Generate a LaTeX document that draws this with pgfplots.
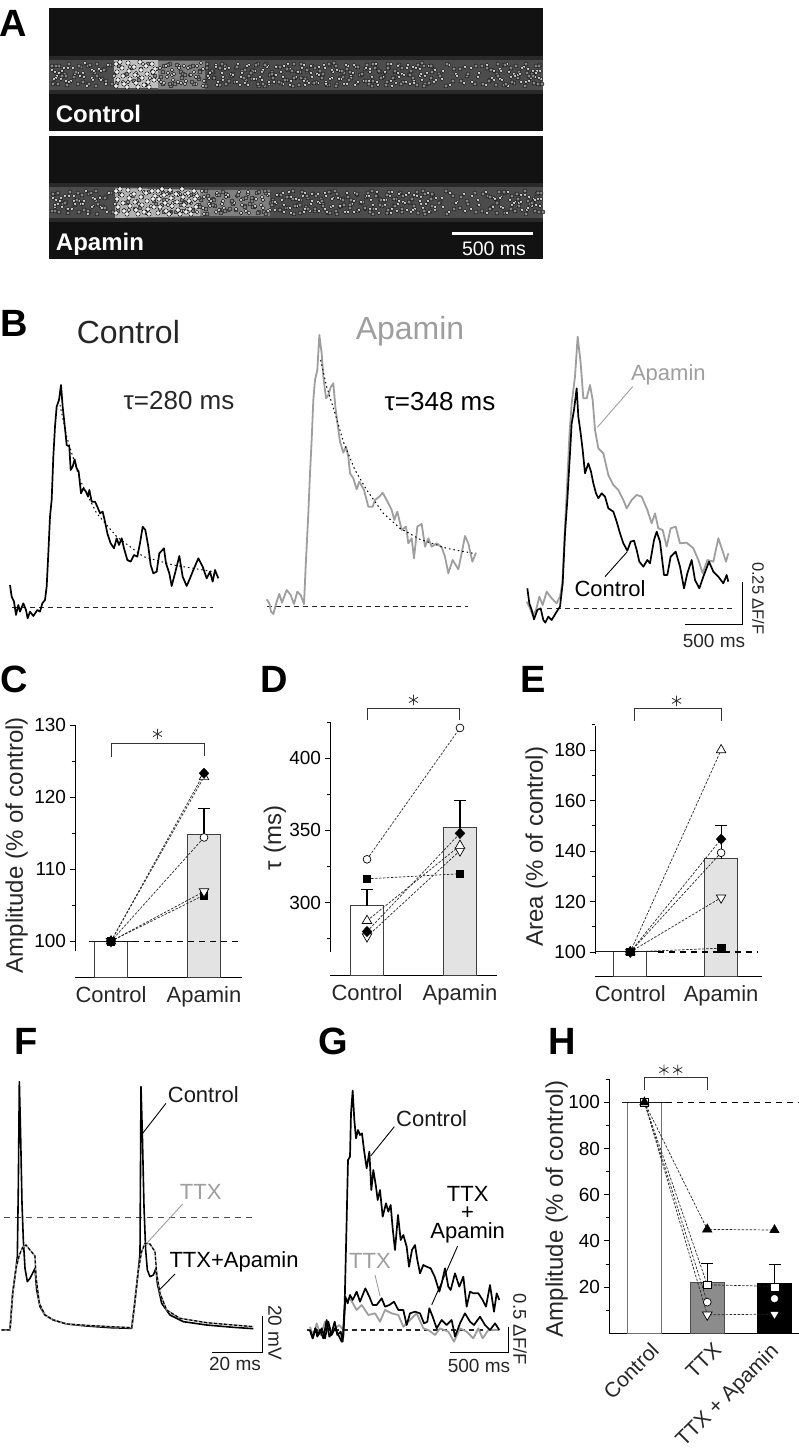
\documentclass[border=0pt]{standalone}
\usepackage{fontspec}
\setmainfont{Liberation Sans}
\usepackage{pgfplots}
\usepackage{pgfplotstable}
\pgfplotsset{compat=1.18}
\newcommand\fs[1]{\fontsize{#1}{#1}\selectfont}
\definecolor{apagray}{gray}{0.62}
\definecolor{bargray}{gray}{0.89}

% crop = {left}{top}{width}{height}{zoom}: hidden axis with the reference's pixels as units
\pgfplotsset{
  crop/.style n args={5}{
    at={({#1pt},{1455pt-(#2pt)-#4pt})}, anchor=south west, scale only axis,
    width=#3pt, height=#4pt, hide axis, clip=false, y dir=reverse,
    xmin=0, xmax={#3*#5}, ymin=0, ymax={#4*#5}},
  trace/.style={line width=1.7pt, black, line join=round},
  gtrace/.style={line width=1.8pt, apagray, line join=round},
  base/.style={black!85, line width=1.1pt, dash pattern=on 5pt off 4pt},
  fit/.style={black, line width=1pt, dash pattern=on 1.5pt off 3pt},
  leader/.style={line width=.9pt},
  sbar/.style={black, line width=1pt},
  panel/.style={
    scale only axis, axis lines=left, clip mode=individual,
    x axis line style={-, line width=1pt}, y axis line style={-, draw=none},
    xtick style={draw=none}, ytick style={black, line width=.9pt},
    tick align=outside, major tick length=5.5pt, minor tick length=3.5pt,
    tick label style={font=\fs{19}}, x tick label style={font=\fs{22}, text=black!85},
    /pgf/number format/assume math mode=true, /pgf/number format/1000 sep={},
    ylabel style={font=\fs{24}, anchor=center, text=black!85}},
  vbar/.style={ybar, bar shift=0pt, draw=black!75, line width=1pt,
    error bars/y dir=plus, error bars/y explicit,
    error bars/error bar style={black, line width=1.1pt},
    error bars/error mark options={black, rotate=90, mark size=6pt, line width=1.1pt}},
  hline/.style={black!90, line width=1pt},
  dline/.style={black, line width=1.1pt, dash pattern=on 6pt off 5pt},
  link/.style={black!85, line width=.7pt, dash pattern=on 2.5pt off 1.5pt},
  brk/.style={black!80, line width=1pt},
  star/.style={only marks, mark=asterisk, mark size=5.2pt, black!80, mark options={line width=.8pt}},
  mSq/.style={only marks, mark=square*, mark size=3.6pt, black},
  mCi/.style={only marks, mark=*, mark size=3.9pt, mark options={fill=white, draw=black, line width=.7pt}},
  mUp/.style={only marks, mark=triangle*, mark size=5.5pt, mark options={fill=white, draw=black, line width=.7pt}},
  mDn/.style={only marks, mark=triangle*, mark size=5.5pt, mark options={rotate=180, fill=white, draw=black, line width=.7pt}},
  mDi/.style={only marks, mark=diamond*, mark size=5.2pt, black, mark options={xscale=1.25}},
}

% one dashed link and one marker per cell
\newcommand\pairs[1]{
  \addplot[link] table[x=cond,y=sq]{#1};
  \addplot[link] table[x=cond,y=dn]{#1};
  \addplot[link] table[x=cond,y=up]{#1};
  \addplot[link] table[x=cond,y=ci]{#1};
  \addplot[link] table[x=cond,y=di]{#1};
  \addplot[mSq] table[x=cond,y=sq]{#1};
  \addplot[mDn] table[x=cond,y=dn]{#1};
  \addplot[mUp] table[x=cond,y=up]{#1};
  \addplot[mCi] table[x=cond,y=ci]{#1};
  \addplot[mDi] table[x=cond,y=di]{#1};
}

\pgfplotstableread{
cond sq dn up ci di
1 100 100 100 100 100
2 106.4 106.9 122.8 114.4 123.3
}\tableC
\pgfplotstableread{
cond sq dn up ci di
1 316.5 276.5 287.5 330 280
2 320 336 339.5 421 348
}\tableD
\pgfplotstableread{
cond sq dn up ci di
1 100 100 100 100 100
2 101.5 121.5 180 139.3 144.7
}\tableE

% line-scan texture of panel A
\newcommand\speckles{
  \addplot[only marks, mark=*, mark size=2pt, mark options={draw=none, fill=black!48}] coordinates {
    (52,72)(58,90)(65,80)(78,90)(88,72)(96,92)(105,75)(163,90)(170,70)(181,78)(193,72)(199,85)(206,92)(213,78)(219,88)(225,72)
    (232,82)(245,76)(252,85)(258,70)(265,92)(272,78)(280,73)(287,86)(293,92)(300,78)(307,87)(315,74)(322,82)(329,91)(336,72)(343,83)
    (350,78)(357,89)(365,75)(372,92)(380,78)(387,88)(394,84)(402,74)(409,81)(417,91)(424,72)(431,84)(439,80)(446,92)(453,87)(460,75)
    (467,82)(475,90)(482,72)(490,86)(497,80)(504,91)(511,74)(518,84)(525,92)(532,80)(538,90)};
  \addplot[only marks, mark=*, mark size=1.8pt, mark options={draw=none, fill=black!12}] coordinates {
    (55,78)(61,85)(68,74)(74,82)(83,79)(92,76)(100,85)(160,74)(167,83)(172,76)(178,88)(184,72)(190,81)(196,90)(203,75)(209,84)
    (216,71)(222,79)(228,88)(236,74)(241,83)(248,91)(255,77)(262,86)(268,72)(275,81)(283,90)(290,75)(296,84)(304,71)(311,79)(318,89)
    (325,74)(332,84)(340,77)(347,90)(354,71)(361,81)(369,87)(376,74)(384,83)(391,70)(398,79)(406,88)(413,73)(420,82)(428,90)(435,76)
    (442,85)(449,71)(456,80)(464,89)(471,74)(478,83)(486,91)(493,76)(500,85)(507,70)(514,80)(521,88)(528,75)(535,83)(540,77)};
}
\newcommand\blockdots{
  \addplot[only marks, mark=*, mark size=2.2pt, mark options={draw=none, fill=black!5}] coordinates {
    (116,64)(122,68)(128,63)(134,67)(140,62)(146,66)(152,64)(155,69)(117,72)(123,76)(129,71)(135,75)(141,70)(147,74)(153,72)
    (118,80)(124,84)(130,79)(136,83)(142,78)(148,82)(154,80)(116,86)(127,87)(138,87)(149,87)(120,62)(144,85)};
}
\newcommand\letter[3]{\node[font=\fs{38}\bfseries, inner sep=0] at (axis cs:#2,#3) {#1};}

\begin{document}
\begin{tikzpicture}
\useasboundingbox (0,0) rectangle (799pt,1455pt);

% panel letters and panel A backgrounds
\begin{axis}[crop={0}{0}{799}{1455}{1}]
  \addplot[fill=black!93, draw=none] coordinates {(49,8)(543,8)(543,131)(49,131)};
  \addplot[fill=black!93, draw=none] coordinates {(49,136)(543,136)(543,259)(49,259)};
  \addplot[fill=black!84, draw=none] coordinates {(49,56)(543,56)(543,94)(49,94)};
  \addplot[fill=black!70, draw=none] coordinates {(49,60)(543,60)(543,90)(49,90)};
  \addplot[fill=black!84, draw=none] coordinates {(49,183)(543,183)(543,222)(49,222)};
  \addplot[fill=black!70, draw=none] coordinates {(49,187)(543,187)(543,218)(49,218)};
  \addplot[fill=black!50, draw=none] coordinates {(158,61)(205,61)(205,89)(158,89)};
  \addplot[fill=black!50, draw=none] coordinates {(200,190)(270,190)(270,216)(200,216)};
  \addplot[fill=black!25, draw=none] coordinates {(114,60)(158,60)(158,88)(114,88)};
  \addplot[fill=black!30, draw=none] coordinates {(115,188)(200,190)(200,216)(115,218)};
  \letter{A}{13}{23} \letter{B}{14}{323} \letter{C}{14}{679} \letter{D}{274}{679}
  \letter{E}{533}{679} \letter{F}{26}{1041} \letter{G}{333}{1041} \letter{H}{562}{1041}
\end{axis}
% the one speckle list, laid down four ways per band so that it does not read as a pattern
\begin{axis}[crop={0}{-6}{799}{1455}{1}] \speckles \end{axis}
\begin{axis}[crop={-207}{-7}{799}{1455}{1}, x dir=reverse] \speckles \end{axis}
\begin{axis}[crop={1}{-1299}{799}{1455}{1}, y dir=normal] \speckles \end{axis}
\begin{axis}[crop={-205}{-1299}{799}{1455}{1}, x dir=reverse, y dir=normal] \speckles \end{axis}
\begin{axis}[crop={-206}{121}{799}{1455}{1}, x dir=reverse] \speckles \end{axis}
\begin{axis}[crop={1}{122}{799}{1455}{1}] \speckles \end{axis}
\begin{axis}[crop={-204}{-1171}{799}{1455}{1}, x dir=reverse, y dir=normal] \speckles \end{axis}
\begin{axis}[crop={0}{-1172}{799}{1455}{1}, y dir=normal] \speckles \end{axis}
\begin{axis}[crop={0}{0}{799}{1455}{1}] \blockdots \end{axis}
\begin{axis}[crop={0}{127}{799}{1455}{1}] \blockdots \end{axis}
\begin{axis}[crop={42}{127}{799}{1455}{1}] \blockdots \end{axis}
\begin{axis}[crop={0}{0}{799}{1455}{1}]
  \addplot[white, line width=3pt] coordinates {(452,234)(533,234)};
  \node[font=\fs{19.5}, white, inner sep=0] at (axis cs:494,249) {500 ms};
  \node[font=\fs{24}\bfseries, white, inner sep=0] at (axis cs:98.5,114) {Control};
  \node[font=\fs{24}\bfseries, white, inner sep=0] at (axis cs:100,244) {Apamin};
\end{axis}

% B, left
\begin{axis}[crop={0}{300}{260}{340}{3}]
  \addplot[base] coordinates {(35,923)(640,923)};
  \addplot[trace] coordinates {(30,855)(35,890)(42,905)(48,945)(55,915)(60,935)(70,910)(78,930)(83,955)(90,935)(100,948)(112,930)(120,935)(127,910)(135,900)(140,860)(145,760)(150,650)(155,600)(160,470)(165,380)(170,320)(177,300)(183,255)(188,320)(195,385)(200,435)(208,440)(212,510)(218,500)(224,478)(230,505)(236,515)(243,580)(250,565)(258,575)(264,590)(268,570)(275,605)(285,605)(292,620)(300,640)(308,635)(315,665)(322,700)(332,730)(342,745)(350,715)(357,735)(365,715)(372,745)(382,780)(392,785)(402,765)(412,770)(420,730)(428,680)(436,690)(445,740)(452,795)(460,820)(470,815)(478,760)(492,745)(498,790)(508,820)(515,858)(525,820)(538,768)(548,830)(560,858)(570,835)(580,810)(595,775)(608,800)(620,835)(630,815)(638,845)(645,810)(655,835)};
  \addplot[fit] coordinates {(180,315)(200,410)(240,540)(290,640)(350,710)(430,770)(520,795)(640,815)};
  \node[font=\fs{32}, black!85, inner sep=0] at (axis cs:385,97) {Control};
  \node[font=\fs{26}, black!85, inner sep=0] at (axis cs:537,302) {τ=280 ms};
\end{axis}
% B, middle
\begin{axis}[crop={260}{300}{260}{340}{3}]
  \addplot[base] coordinates {(20,920)(625,920)};
  \addplot[gtrace] coordinates {(20,898)(28,910)(33,935)(40,942)(50,905)(58,882)(66,908)(80,870)(92,885)(102,912)(112,875)(122,885)(132,912)(137,800)(145,640)(150,520)(155,420)(160,300)(165,240)(172,210)(178,105)(185,160)(190,230)(198,295)(205,285)(212,262)(220,250)(226,320)(235,390)(240,425)(250,458)(258,440)(265,470)(270,520)(280,535)(290,568)(298,545)(312,570)(325,620)(338,620)(345,600)(358,590)(368,578)(380,600)(395,630)(403,660)(412,635)(425,690)(438,680)(445,730)(455,715)(462,775)(472,680)(485,672)(495,740)(505,715)(515,740)(530,730)(545,742)(555,770)(565,820)(578,780)(595,808)(605,760)(615,708)(625,730)(637,785)(648,758)};
  \addplot[fit] coordinates {(182,180)(200,260)(225,340)(250,425)(285,510)(320,570)(370,640)(420,685)(480,718)(560,745)(640,760)};
  \node[font=\fs{32}, apagray, inner sep=0] at (axis cs:450,95) {Apamin};
  \node[font=\fs{26}, black, inner sep=0] at (axis cs:540,305) {τ=348 ms};
\end{axis}
% B, right
\begin{axis}[crop={510}{320}{270}{340}{3}]
  \addplot[base] coordinates {(110,865)(668,865)};
  \addplot[gtrace] coordinates {(50,845)(58,860)(68,885)(78,870)(88,830)(98,855)(110,815)(125,835)(140,850)(150,830)(157,790)(165,620)(172,480)(178,350)(185,250)(195,170)(203,50)(212,130)(220,235)(230,235)(240,195)(248,240)(255,330)(265,385)(280,400)(295,465)(310,495)(325,510)(340,540)(350,565)(365,540)(380,525)(395,530)(412,570)(425,610)(435,580)(445,625)(458,630)(470,680)(482,625)(497,620)(510,670)(530,668)(550,685)(565,720)(578,760)(592,720)(610,725)(625,655)(640,700)(648,725)(655,700)};
  \addplot[trace] coordinates {(52,805)(58,850)(65,870)(72,898)(82,870)(92,865)(100,900)(106,908)(115,890)(125,900)(140,875)(150,860)(158,790)(165,640)(172,540)(180,400)(185,310)(192,270)(200,205)(205,290)(212,340)(218,390)(225,460)(235,430)(243,455)(250,490)(258,520)(265,535)(275,520)(285,530)(295,565)(310,575)(320,605)(330,640)(340,670)(352,692)(362,665)(372,662)(380,690)(388,725)(400,740)(412,720)(420,730)(432,660)(440,635)(450,665)(462,765)(472,765)(482,710)(497,695)(510,740)(522,805)(532,760)(545,720)(555,780)(568,805)(580,770)(597,725)(610,755)(625,770)(640,790)(650,765)(655,785)};
  \addplot[leader, apagray] coordinates {(368,200)(262,322)};
  \addplot[leader, black] coordinates {(352,695)(285,770)};
  \addplot[sbar] coordinates {(525,913)(697,913)(697,785)};
  \node[font=\fs{22}, apagray, inner sep=0] at (axis cs:475,165) {Apamin};
  \node[font=\fs{22}, black, inner sep=0] at (axis cs:300,805) {Control};
  \node[font=\fs{19}, black!85, inner sep=0] at (axis cs:612,962) {500 ms};
  \node[font=\fs{16.5}, black!85, inner sep=0, rotate=-90] at (axis cs:745,835) {0.25 ΔF/F};
\end{axis}

% C
\begin{axis}[panel, at={(75pt,{1455pt-977.3pt})}, anchor=south west, width=166.7pt, height=252.3pt,
    xmin=0.613, xmax=2.405, ymin=95, ymax=130,
    xtick={1,2}, xticklabels={Control,Apamin},
    ytick={100,110,120,130}, minor ytick={105,115,125},
    ylabel={Amplitude (\% of control)}, ylabel style={at={(axis description cs:-0.35,0.524)}}]
  \addplot[vbar, bar width=33.4pt, fill=white] coordinates {(1,100)};
  \addplot[vbar, bar width=33.4pt, fill=bargray] coordinates {(2,114.8) +- (0,3.6)};
  \addplot[hline] coordinates {(0.76,100)(1.24,100)};
  \addplot[dline] coordinates {(1.24,100)(2.36,100)};
  \pairs{\tableC}
  \addplot[only marks, mark=*, mark size=4.4pt, black] coordinates {(1,100)};
  \addplot[brk] coordinates {(1,125.6)(1,127.46)(2,127.46)(2,125.7)};
  \addplot[star] coordinates {(1.5,128.75)};
  \draw[black, line width=1pt] (axis cs:0.613,98.7) -- (axis cs:0.613,130);
\end{axis}

% D
\begin{axis}[panel, at={(330pt,{1455pt-976pt})}, anchor=south west, width=166.7pt, height=282.7pt,
    xmin=0.602, xmax=2.395, ymin=249.2, ymax=445,
    xtick={1,2}, xticklabels={Control,Apamin},
    ytick={300,350,400}, minor ytick={275,325,375,425},
    ylabel={τ (ms)}, ylabel style={at={(axis description cs:-0.33,0.488)}}]
  \addplot[vbar, bar width=33.4pt, fill=white] coordinates {(1,297.8) +- (0,11.2)};
  \addplot[vbar, bar width=33.4pt, fill=bargray] coordinates {(2,352) +- (0,19)};
  \pairs{\tableD}
  \addplot[brk] coordinates {(1,426.6)(1,434.6)(2,434.6)(2,426.6)};
  \addplot[star] coordinates {(1.5,440.4)};
  \draw[black, line width=1pt] (axis cs:0.602,266) -- (axis cs:0.602,425.4);
\end{axis}

% E
\begin{axis}[panel, at={(595pt,{1455pt-976.7pt})}, anchor=south west, width=166.7pt, height=284.7pt,
    xmin=0.612, xmax=2.447, ymin=90.2, ymax=203,
    xtick={1,2}, xticklabels={Control,Apamin},
    ytick={100,120,140,160,180}, minor ytick={110,130,150,170,190},
    ylabel={Area (\% of control)}, ylabel style={at={(axis description cs:-0.35,0.456)}}]
  \addplot[vbar, bar width=33.4pt, fill=white] coordinates {(1,100)};
  \addplot[vbar, bar width=33.4pt, fill=bargray] coordinates {(2,137) +- (0,13.2)};
  \addplot[hline] coordinates {(0.612,100)(1.3,100)};
  \addplot[dline] coordinates {(1.3,100)(2.4,100)};
  \pairs{\tableE}
  \addplot[only marks, mark=*, mark size=4.4pt, black] coordinates {(1,100)};
  \addplot[brk] coordinates {(1.05,191.5)(1.05,196.5)(2,196.5)(2,191.5)};
  \addplot[star] coordinates {(1.51,199.5)};
  \draw[black, line width=1pt] (axis cs:0.612,99) -- (axis cs:0.612,189.6);
\end{axis}

% F
\begin{axis}[crop={0}{1020}{310}{320}{3}]
  \addplot[base, black!70, dash pattern=on 6pt off 5pt] coordinates {(12,593)(768,593)};
  \addplot[line width=1.6pt, black, line join=round] coordinates {(5,930)(30,930)(38,820)(48,745)(52,710)(55,500)(58,185)(62,350)(66,550)(70,660)(75,745)(82,785)(90,775)(100,755)(105,745)(110,810)(120,860)(135,885)(160,900)(200,912)(260,918)(330,923)(395,925)(403,860)(415,750)(420,700)(423,200)(427,340)(432,560)(437,690)(442,750)(450,770)(460,765)(468,745)(472,790)(485,850)(510,885)(550,905)(620,915)(700,922)(760,926)};
  \addplot[line width=1.5pt, apagray, line join=round] coordinates {(5,930)(30,930)(38,820)(48,745)(58,705)(68,682)(78,675)(90,690)(105,708)(108,770)(118,850)(135,885)(160,900)(200,912)(260,916)(330,920)(395,923)(403,860)(415,750)(425,695)(435,670)(450,672)(465,695)(470,760)(480,820)(500,870)(540,895)(620,908)(700,915)(760,920)};
  \addplot[line width=1.2pt, black, dash pattern=on 3pt off 2pt] coordinates {(5,930)(30,930)(38,820)(48,745)(58,705)(68,682)(78,675)(90,690)(105,708)(108,770)(118,850)(135,885)(160,900)(200,912)(260,916)(330,920)(395,923)(403,860)(415,750)(425,695)(435,670)(450,672)(465,695)(470,760)(480,820)(500,870)(540,895)(620,908)(700,915)(760,920)};
  \addplot[leader, black] coordinates {(498,250)(428,340)};
  \addplot[leader, apagray] coordinates {(548,552)(440,670)};
  \addplot[leader, black] coordinates {(525,762)(478,810)};
  \node[font=\fs{22}, black!90, inner sep=0] at (axis cs:610,225) {Control};
  \node[font=\fs{22}, apagray, inner sep=0] at (axis cs:602,515) {TTX};
  \node[font=\fs{22}, black, inner sep=0] at (axis cs:702,725) {TTX+Apamin};
\end{axis}
\begin{axis}[crop={180}{1290}{130}{100}{3}]
  \addplot[sbar] coordinates {(97,188)(247,188)(247,78)};
  \node[font=\fs{19}, black!85, inner sep=0] at (axis cs:165,222) {20 ms};
  \node[font=\fs{19}, black!85, inner sep=0, rotate=-90] at (axis cs:285,128) {20 mV};
\end{axis}

% G
\begin{axis}[crop={300}{1020}{240}{320}{3}]
  \addplot[base] coordinates {(20,930)(555,930)};
  \addplot[gtrace] coordinates {(30,920)(40,950)(50,910)(62,945)(75,905)(90,950)(105,925)(118,915)(130,930)(136,840)(150,835)(170,870)(185,855)(205,885)(225,880)(240,905)(255,870)(275,880)(295,885)(310,920)(330,900)(350,880)(370,925)(385,930)(405,945)(420,925)(445,935)(462,965)(480,925)(500,935)(520,955)(535,925)(548,955)(565,930)(598,930)};
  \addplot[trace] coordinates {(30,930)(38,955)(46,925)(52,950)(60,930)(70,955)(80,900)(88,950)(96,935)(104,905)(112,945)(122,935)(128,965)(134,850)(140,600)(144,420)(150,410)(153,280)(158,212)(163,300)(168,355)(174,330)(180,345)(186,340)(192,390)(200,445)(208,395)(214,510)(220,450)(228,500)(233,540)(240,510)(248,590)(258,550)(265,575)(272,555)(278,625)(285,690)(294,585)(302,660)(310,645)(320,680)(327,740)(336,690)(345,675)(352,720)(360,760)(370,735)(380,740)(392,745)(404,770)(418,815)(425,790)(435,745)(445,800)(452,810)(465,760)(478,800)(490,770)(500,860)(510,815)(520,820)(535,820)(548,840)(558,860)(570,795)(582,875)(590,820)(598,840)};
  \addplot[trace] coordinates {(30,930)(38,955)(46,925)(55,945)(65,925)(75,955)(85,905)(95,945)(105,925)(115,945)(125,965)(130,950)(136,830)(143,850)(150,825)(158,840)(170,815)(180,845)(196,805)(208,830)(218,855)(230,855)(245,835)(255,860)(268,855)(282,845)(295,870)(310,870)(320,915)(330,880)(345,875)(360,880)(372,910)(382,905)(388,865)(398,890)(410,925)(425,900)(440,915)(455,900)(465,950)(480,910)(495,880)(510,905)(522,915)(540,890)(555,915)(570,930)(585,910)(598,930)};
  \addplot[leader, black] coordinates {(283,320)(212,408)};
  \addplot[leader, apagray] coordinates {(225,765)(240,828)};
  \addplot[leader, black] coordinates {(473,678)(395,855)};
  \addplot[sbar] coordinates {(450,997)(625,997)(625,920)};
  \node[font=\fs{22}, black!90, inner sep=0] at (axis cs:395,295) {Control};
  \node[font=\fs{22}, apagray, inner sep=0] at (axis cs:210,722) {TTX};
  \node[font=\fs{22}, black, inner sep=0] at (axis cs:503,522) {TTX};
  \node[font=\fs{22}, black, inner sep=0] at (axis cs:503,578) {+};
  \node[font=\fs{22}, black, inner sep=0] at (axis cs:503,638) {Apamin};
  \node[font=\fs{19}, black!85, inner sep=0] at (axis cs:537,1038) {500 ms};
  \node[font=\fs{18.5}, black!85, inner sep=0, rotate=-90] at (axis cs:660,928) {0.5 ΔF/F};
\end{axis}

% H
\begin{axis}[panel, at={(609pt,{1455pt-1333.3pt})}, anchor=south west, width=190pt, height=272.6pt,
    xmin=0.4365, xmax=3.46, ymin=0, ymax=118,
    xtick={1,2,2.9}, xticklabels={Control,TTX,TTX + Apamin},
    x tick label style={rotate=45, anchor=north east, xshift=5pt, yshift=-2pt, font=\fs{21}},
    ytick={20,40,60,80,100}, minor ytick={10,30,50,70,90,110},
    ylabel={Amplitude (\% of control)}, ylabel style={at={(axis description cs:-0.275,0.456)}}]
  \addplot[vbar, bar width=33.6pt, fill=white, draw=black!55] coordinates {(1,100)};
  \addplot[vbar, bar width=33.6pt, fill=black!45, draw=black!70] coordinates {(2,22) +- (0,8.2)};
  \addplot[vbar, bar width=33.6pt, fill=black, draw=black] coordinates {(3.07,21.7) +- (0,8.1)};
  \addplot[hline] coordinates {(0.65,100)(1.35,100)};
  \addplot[dline] coordinates {(1.35,100)(3.46,100)};
  \addplot[link] coordinates {(1,100)(2,45)(3.07,44.7)};
  \addplot[link] coordinates {(1,100)(2,21)(3.07,20.3)};
  \addplot[link] coordinates {(1,100)(2,13.5)};
  \addplot[link] coordinates {(1,100)(2,8)(3.07,8.3)};
  \addplot[mSq, mark options={fill=white, draw=black, line width=.7pt}] coordinates {(1,100)(2,21)};
  \addplot[mCi] coordinates {(2,13.5)};
  \addplot[mDn] coordinates {(2,8)};
  \addplot[only marks, mark=triangle*, mark size=5.5pt, black] coordinates {(1,100)(2,45)(3.07,44.7)};
  \addplot[only marks, mark=square*, mark size=3.3pt, mark options={white, fill=white}] coordinates {(3.07,20)};
  \addplot[only marks, mark=*, mark size=3.4pt, mark options={white, fill=white}] coordinates {(3.07,15)};
  \addplot[only marks, mark=triangle*, mark size=4.2pt, mark options={rotate=180, white, fill=white}] coordinates {(3.07,8.3)};
  \addplot[brk] coordinates {(1,105.3)(1,110.8)(2,110.8)(2,105.3)};
  \addplot[star] coordinates {(1.31,114)(1.53,114)};
  \draw[black, line width=1pt] (axis cs:0.4365,0) -- (axis cs:0.4365,110);
\end{axis}
\end{tikzpicture}
\end{document}
